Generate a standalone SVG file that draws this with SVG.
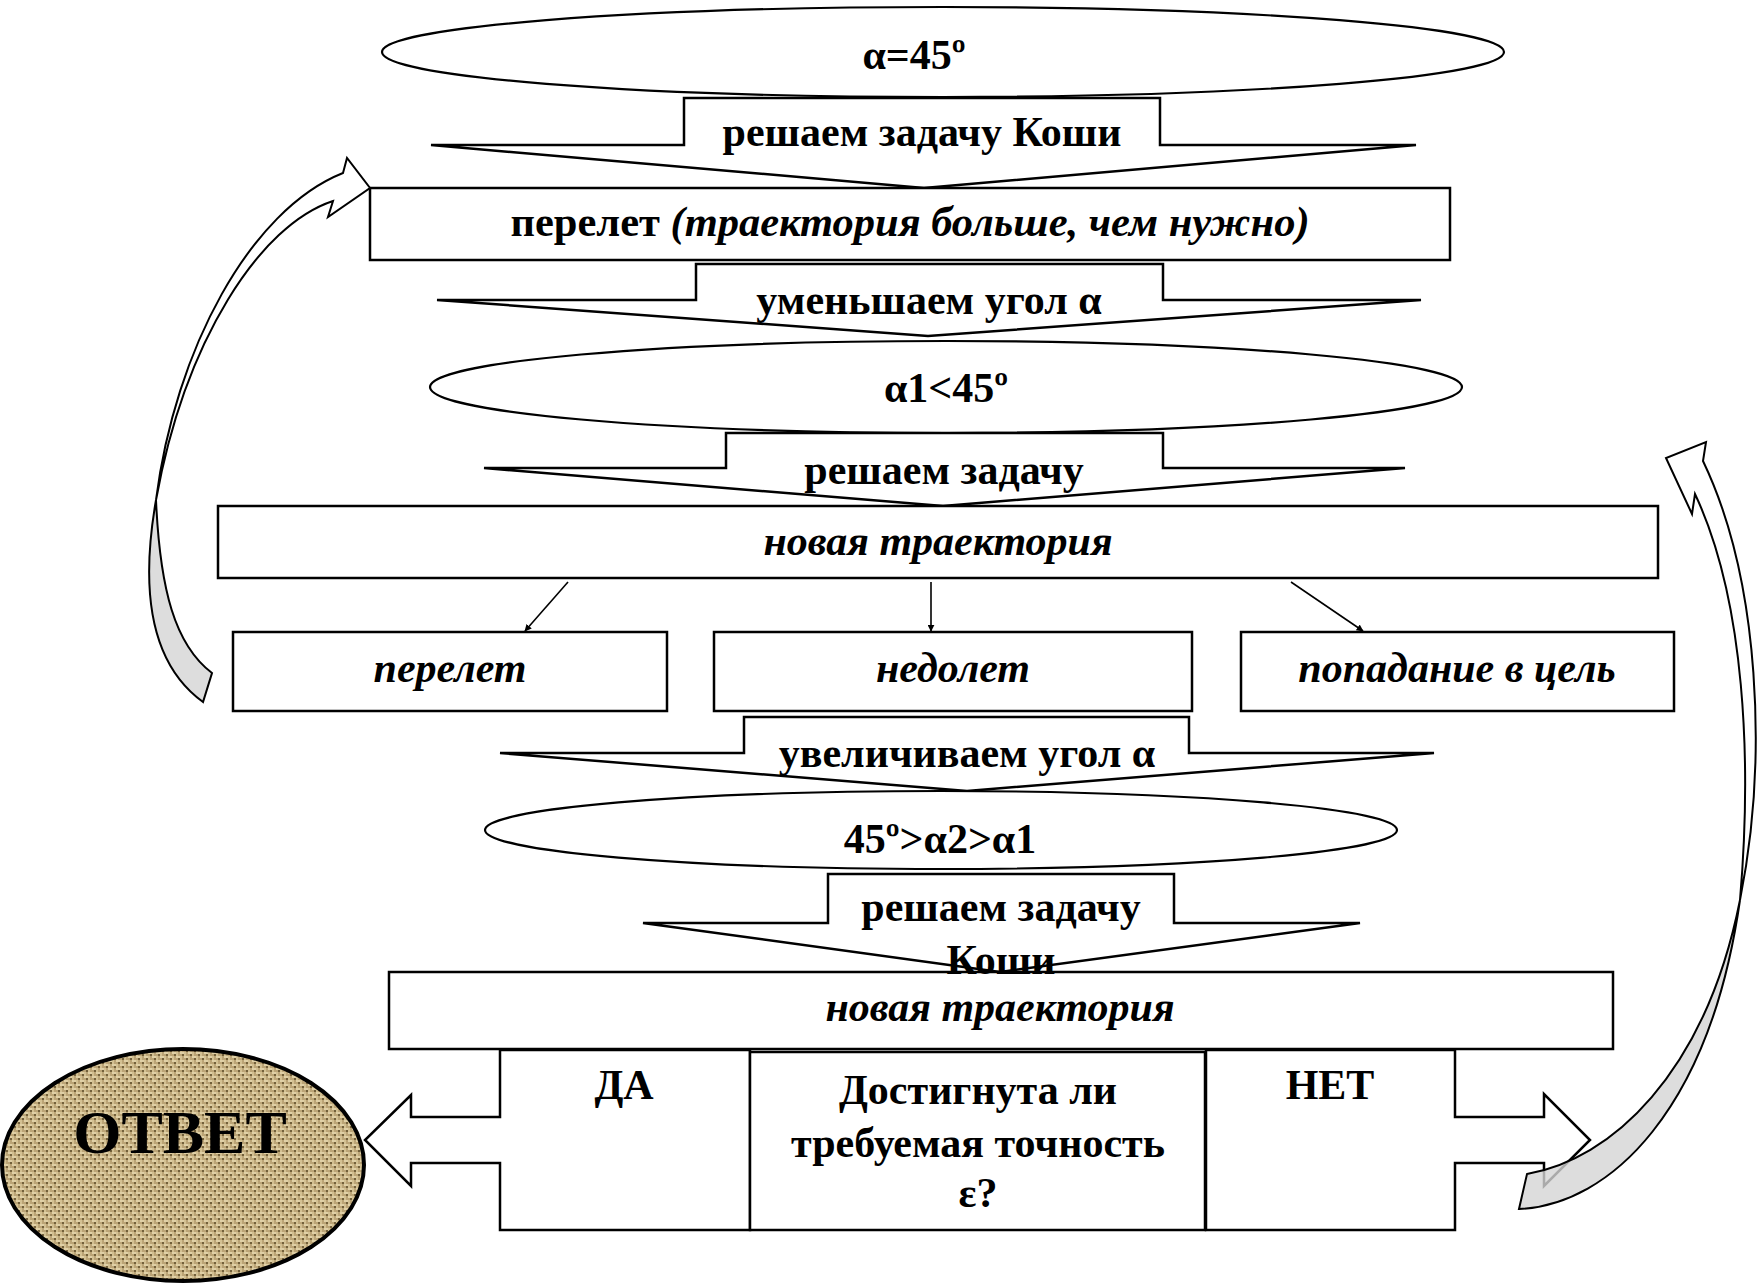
<svg xmlns="http://www.w3.org/2000/svg" width="1757" height="1283" viewBox="0 0 1757 1283">
<style>
.s{fill:#fff;stroke:#000;stroke-width:2.5;stroke-linejoin:miter}
.e{fill:#fff;stroke:#000;stroke-width:2.2}
.t{font-family:"Liberation Serif","Times New Roman",serif;font-weight:bold;font-size:42px;text-anchor:middle;fill:#000}
.i{font-style:italic}
.big{font-size:62px}
.ln{stroke:#000;stroke-width:1.6;fill:none}
.cw{fill:#fff;stroke:#000;stroke-width:2}
.cg{fill:#d4d4d4;fill-opacity:0.8;stroke:#000;stroke-width:2}
</style>
<defs>
<marker id="ah" viewBox="0 0 10 10" refX="9" refY="5" markerWidth="7" markerHeight="7" orient="auto" markerUnits="userSpaceOnUse">
<path d="M0,0 L10,5 L0,10 Z" fill="#000"/>
</marker>
<pattern id="burlap" width="8" height="8" patternUnits="userSpaceOnUse">
<rect width="8" height="8" fill="#bba476"/>
<rect x="0" y="0" width="4" height="2" fill="#e0d0a6"/>
<rect x="4" y="4" width="4" height="2" fill="#e0d0a6"/>
<rect x="4" y="0" width="2" height="4" fill="#d3c092"/>
<rect x="0" y="4" width="2" height="4" fill="#d3c092"/>
<rect x="2" y="2" width="2" height="2" fill="#72603b"/>
<rect x="6" y="6" width="2" height="2" fill="#72603b"/>
</pattern>
</defs>

<g id="e1">
<ellipse class="e" cx="943" cy="52" rx="561" ry="45"/>
<text class="t" x="914" y="69">α=45º</text>
</g>

<g id="a1">
<polygon class="s" points="684,98 1160,98 1160,145 1416,145 924,188 431,145 684,145"/>
<text class="t" x="922" y="146">решаем задачу Коши</text>
</g>

<g id="r1">
<rect class="s" x="370" y="188" width="1080" height="72"/>
<text class="t" x="910" y="236" style="font-size:42.5px"><tspan>перелет </tspan><tspan class="i">(траектория больше, чем нужно)</tspan></text>
</g>

<g id="a2">
<polygon class="s" points="696,264 1163,264 1163,300 1421,300 928,336 437,300 696,300"/>
<text class="t" x="929" y="314">уменьшаем угол α</text>
</g>

<g id="e2">
<ellipse class="e" cx="946" cy="387" rx="516" ry="46"/>
<text class="t" x="946" y="402">α1&lt;45º</text>
</g>

<g id="a3">
<polygon class="s" points="726,433 1163,433 1163,468 1405,468 943,506 484,468 726,468"/>
<text class="t" x="944" y="484">решаем задачу</text>
</g>

<g id="r2">
<rect class="s" x="218" y="506" width="1440" height="72"/>
<text class="t i" x="938" y="555">новая траектория</text>
</g>

<g id="b1">
<rect class="s" x="233" y="632" width="434" height="79"/>
<text class="t i" x="450" y="682">перелет</text>
</g>
<g id="b2">
<rect class="s" x="714" y="632" width="478" height="79"/>
<text class="t i" x="953" y="682">недолет</text>
</g>
<g id="b3">
<rect class="s" x="1241" y="632" width="433" height="79"/>
<text class="t i" x="1457" y="682">попадание в цель</text>
</g>

<g id="a4">
<polygon class="s" points="744,717 1189,717 1189,753 1434,753 967,791 500,753 744,753"/>
<text class="t" x="967" y="767">увеличиваем угол α</text>
</g>

<g id="e3">
<ellipse class="e" cx="941" cy="830" rx="456" ry="39"/>
<text class="t" x="940" y="853">45º&gt;α2&gt;α1</text>
</g>

<g id="a5">
<polygon class="s" points="828,874 1174,874 1174,923 1360,923 1000,972 643,923 828,923"/>
<text class="t" x="1001" y="921">решаем задачу</text>
</g>

<g id="r3">
<rect class="s" x="389" y="972" width="1224" height="77"/>
<text class="t" x="1001" y="974">Коши</text>
<text class="t i" x="1000" y="1021">новая траектория</text>
</g>

<g id="yes">
<polygon class="s" points="750,1050 500,1050 500,1117 411,1117 411,1095 365,1140 411,1186 411,1163 500,1163 500,1230 750,1230"/>
<text class="t" x="624" y="1099">ДА</text>
</g>

<g id="no">
<polygon class="s" points="1206,1050 1455,1050 1455,1117 1544,1117 1544,1094 1590,1140 1544,1186 1544,1163 1455,1163 1455,1230 1206,1230"/>
<text class="t" x="1330" y="1099">НЕТ</text>
</g>

<g id="q">
<rect class="s" x="750" y="1052" width="455" height="178"/>
<text class="t" x="978" y="1104">Достигнута ли</text>
<text class="t" x="978" y="1157">требуемая точность</text>
<text class="t" x="978" y="1207">ε?</text>
</g>

<g id="answer">
<ellipse cx="183" cy="1165" rx="181" ry="116" fill="url(#burlap)" stroke="#000" stroke-width="4"/>
<text class="t big" x="180" y="1153">ОТВЕТ</text>
</g>

<g id="connectors">
<line class="ln" x1="568" y1="582" x2="525" y2="631" marker-end="url(#ah)"/>
<line class="ln" x1="931" y1="582" x2="931" y2="631" marker-end="url(#ah)"/>
<line class="ln" x1="1291" y1="582" x2="1363" y2="631" marker-end="url(#ah)"/>
<path class="cg" d="M156,500 C142,580 145,660 203,702 L212,673 C175,645 160,590 156,500 Z"/>
<path class="cw" d="M156,500 C175,350 250,210 343,173 L347,158 L370,188 L328,217 L333,201 C260,225 185,340 156,500 Z"/>
<path class="cg" d="M1519,1209 C1610,1205 1710,1110 1740,900 C1705,1075 1610,1160 1527,1174 Z"/>
<path class="cw" d="M1740,900 C1768,760 1760,580 1703,461 L1706,442 L1666,458 L1692,514 L1695,494 C1745,600 1752,760 1740,900 Z"/>
</g>
</svg>
